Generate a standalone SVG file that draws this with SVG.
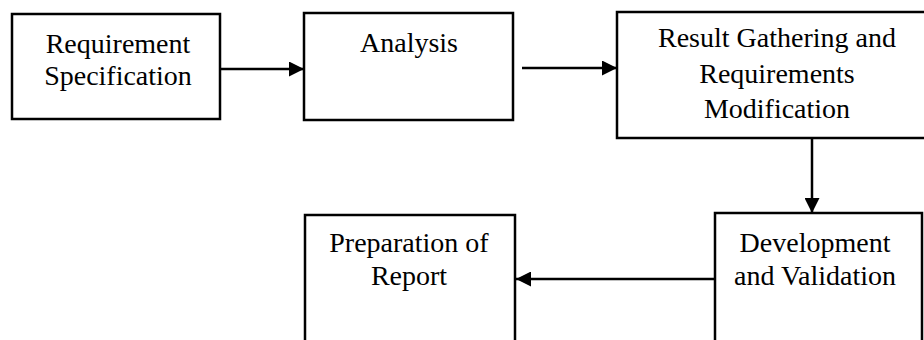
<svg xmlns="http://www.w3.org/2000/svg" width="924" height="340" viewBox="0 0 924 340">
<defs>
<style>
.box{fill:#fff;stroke:#000;stroke-width:2.5}
.t{font-size:28px;fill:#000;text-anchor:middle}
.c{stroke:#000;stroke-width:2.5;fill:none}
</style>
<marker id="ah" viewBox="0 0 15 15" refX="15" refY="7.5" markerWidth="15" markerHeight="15" markerUnits="userSpaceOnUse" orient="auto">
<path d="M0,0 L15,7.5 L0,15 z" fill="#000"/>
</marker>
</defs>
<rect width="924" height="340" fill="#fff"/>
<g id="connectors">
<line class="c" x1="221" y1="69" x2="304" y2="69" marker-end="url(#ah)"/>
<line class="c" x1="522" y1="68" x2="617" y2="68" marker-end="url(#ah)"/>
<line class="c" x1="812" y1="138" x2="812" y2="213" marker-end="url(#ah)"/>
<line class="c" x1="715" y1="279" x2="516" y2="279" marker-end="url(#ah)"/>
</g>
<g font-family="'Liberation Serif', 'DejaVu Serif', serif">
<g id="n1">
<rect class="box" x="12" y="14" width="208" height="105"/>
<text class="t" x="118" y="53">Requirement</text>
<text class="t" x="118" y="85">Specification</text>
</g>
<g id="n2">
<rect class="box" x="304" y="13" width="209" height="107"/>
<text class="t" x="409" y="52">Analysis</text>
</g>
<g id="n3">
<rect class="box" x="617" y="12" width="320" height="126"/>
<text class="t" x="777" y="47">Result Gathering and</text>
<text class="t" x="777" y="83">Requirements</text>
<text class="t" x="777" y="118">Modification</text>
</g>
<g id="n4">
<rect class="box" x="715" y="213" width="207" height="140"/>
<text class="t" x="815" y="252">Development</text>
<text class="t" x="815" y="285">and Validation</text>
</g>
<g id="n5">
<rect class="box" x="305" y="215" width="210" height="140"/>
<text class="t" x="409" y="252">Preparation of</text>
<text class="t" x="409" y="285">Report</text>
</g>
</g>
</svg>
